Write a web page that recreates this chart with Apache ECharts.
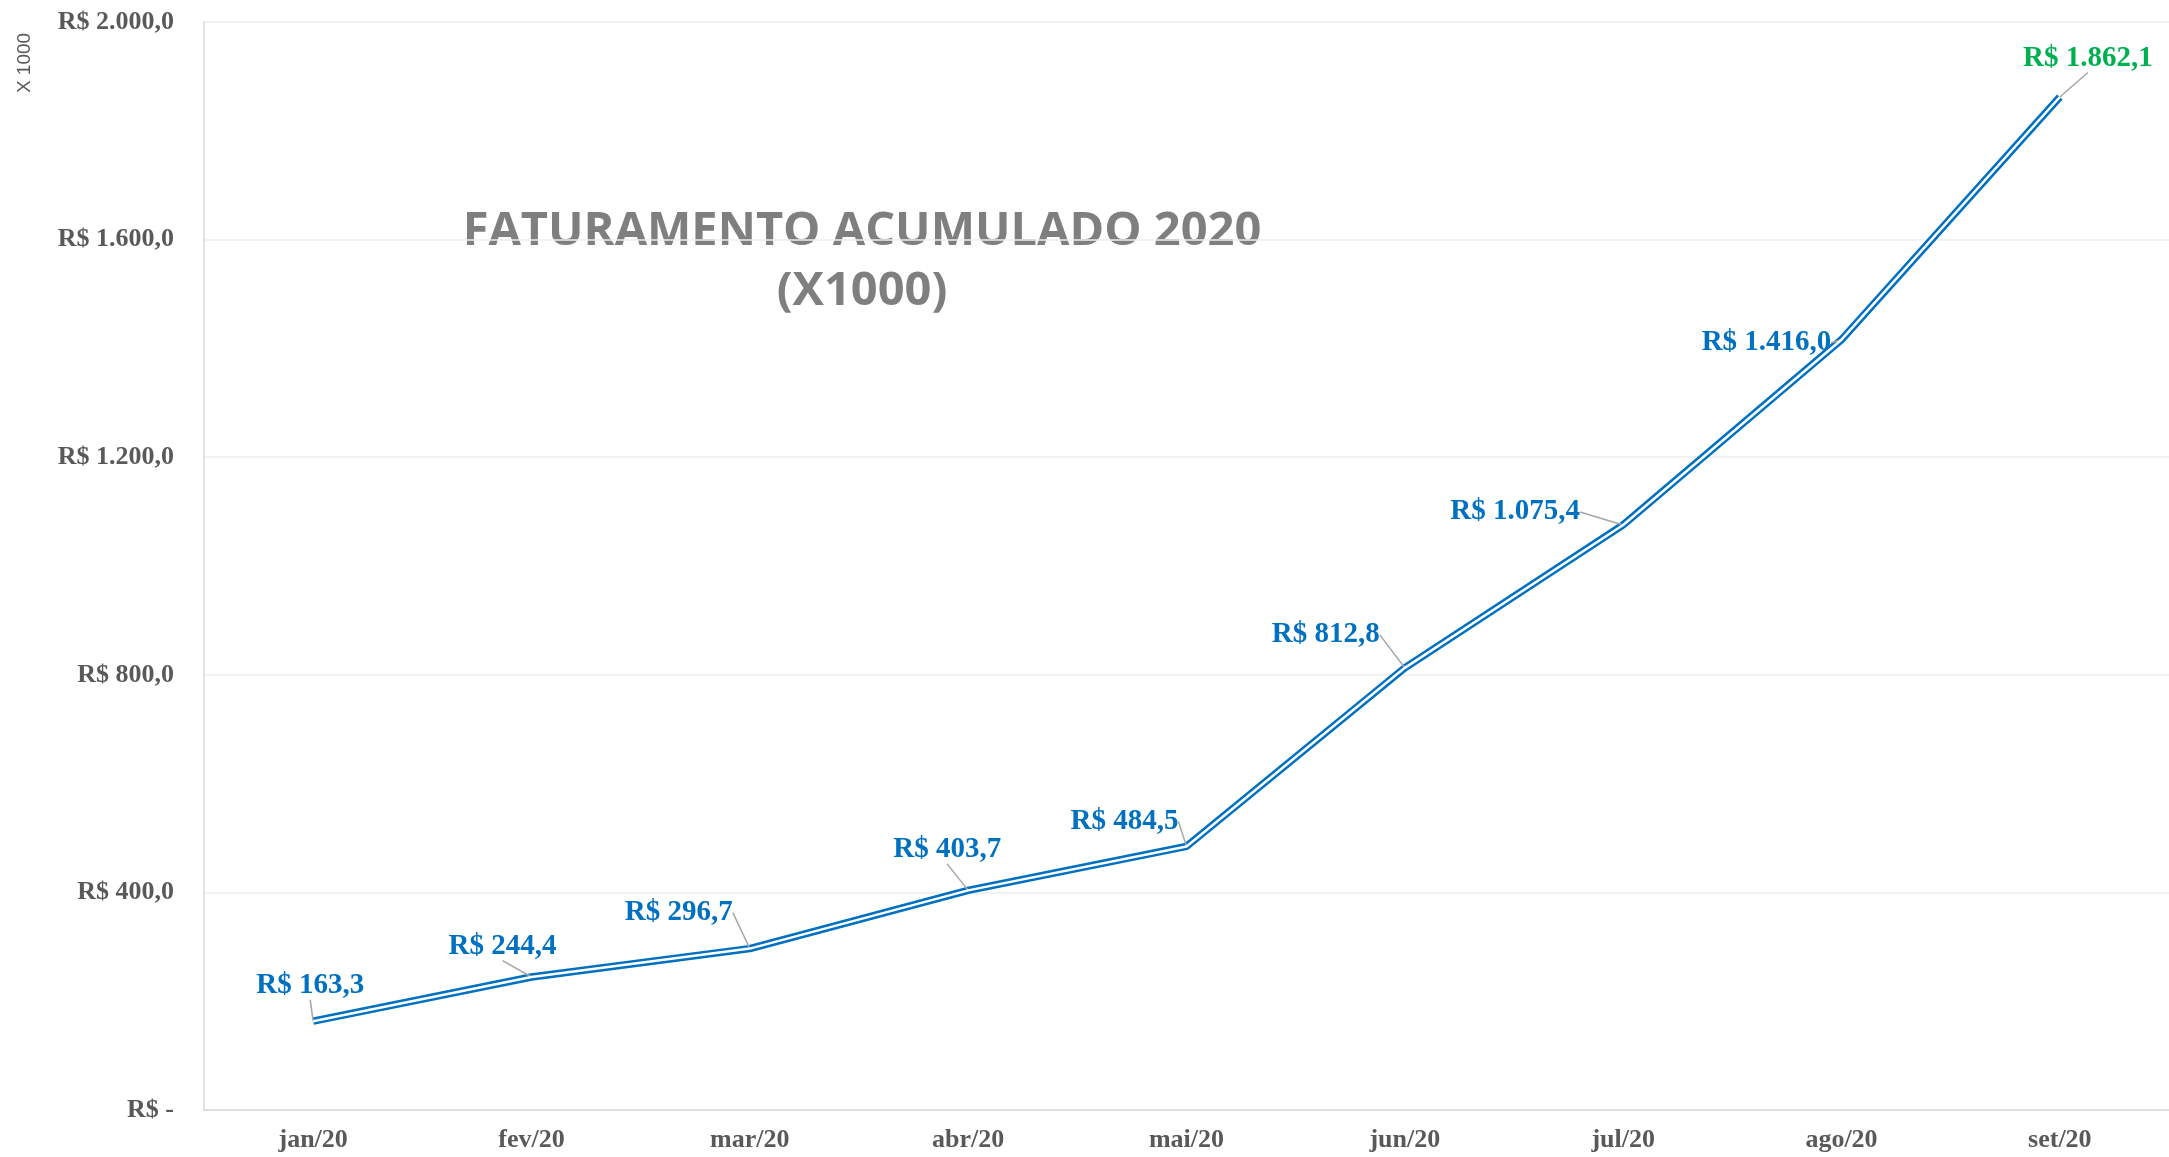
<!DOCTYPE html>
<html>
<head>
<meta charset="utf-8">
<title>Faturamento acumulado 2020</title>
<script src="https://cdn.jsdelivr.net/npm/echarts@6/dist/echarts.min.js"></script>
<style>
  html, body { margin: 0; padding: 0; background: #fff; }
  #faturamento_con { width: 2169px; height: 1157px; }
</style>
</head>
<body>
<div id="faturamento_con"></div>
<script>
// dados (x1000)
var meses = ['jan/20', 'fev/20', 'mar/20', 'abr/20', 'mai/20', 'jun/20', 'jul/20', 'ago/20', 'set/20'];
var acumulado = [163.3, 244.4, 296.7, 403.7, 484.5, 812.8, 1075.4, 1416.0, 1862.1];
var yTicks = [0, 400, 800, 1200, 1600, 2000];
// deslocamento dos rotulos em relacao ao ponto
var labelDx = [-3, -29, -71, -21, -62, -79, -108, -75, 28];
var labelDy = [-36, -31, -36, -41, -25, -33, -13, 3, -39];

var azul = '#0070C0';
var verde = '#00B050';
var cinza = '#595959';

function brl(v) {
  if (v === 0) return 'R$ -';
  var parts = v.toFixed(1).split('.');
  var inteiro = parts[0].replace(/\B(?=(\d{3})+(?!\d))/g, '.');
  return 'R$ ' + inteiro + ',' + parts[1];
}

var chart = echarts.init(document.getElementById('faturamento_con'));

var dadosLinha = acumulado.map(function (v, i) {
  var item = { value: v };
  if (i === acumulado.length - 1) {
    item.label = { color: verde };
  }
  return item;
});

var option = {
  animation: false,
  backgroundColor: '#fff',
  grid: { left: 204, right: -7, top: 22, bottom: 47 },
  graphic: [
    {
      type: 'text',
      x: 862, y: 262,
      style: {
        text: 'FATURAMENTO ACUMULADO 2020\n(X1000)',
        textAlign: 'center',
        textVerticalAlign: 'middle',
        font: 'bold 47px "Open Sans"',
        lineHeight: 60,
        fill: '#7f7f7f'
      }
    },
    {
      type: 'text',
      x: 25, y: 63,
      rotation: Math.PI / 2,
      style: {
        text: 'X 1000',
        textAlign: 'center',
        textVerticalAlign: 'middle',
        font: '19px "Liberation Sans"',
        fill: cinza
      }
    }
  ],
  xAxis: {
    type: 'category',
    data: meses,
    boundaryGap: true,
    axisLine: { show: true, lineStyle: { color: '#d9d9d9', width: 1.5 } },
    axisTick: { show: false },
    axisLabel: {
      margin: 17,
      color: cinza,
      fontFamily: 'Liberation Serif',
      fontWeight: 'bold',
      fontSize: 26
    }
  },
  yAxis: {
    type: 'value',
    min: yTicks[0],
    max: yTicks[yTicks.length - 1],
    interval: 400,
    axisLine: { show: true, lineStyle: { color: '#d9d9d9', width: 1.5 } },
    axisTick: { show: false },
    splitLine: { lineStyle: { color: '#eeeeee', width: 1.5 } },
    axisLabel: {
      margin: 30,
      color: cinza,
      fontFamily: 'Liberation Serif',
      fontWeight: 'bold',
      fontSize: 26,
      formatter: function (v) { return brl(v); }
    }
  },
  series: [
    {
      name: 'Faturamento',
      type: 'line',
      data: dadosLinha,
      symbol: 'circle',
      symbolSize: 0.1,
      showSymbol: true,
      itemStyle: { color: 'rgba(0,0,0,0)', borderWidth: 0 },
      lineStyle: { color: azul, width: 7.5 },
      z: 2,
      label: {
        show: true,
        position: 'inside',
        color: azul,
        fontFamily: 'Liberation Serif',
        fontWeight: 'bold',
        fontSize: 29,
        formatter: function (p) { return brl(p.value); }
      },
      labelLine: {
        show: true,
        lineStyle: { color: '#a6a6a6', width: 1.5 }
      },
      labelLayout: function (p) {
        return { dx: labelDx[p.dataIndex], dy: labelDy[p.dataIndex], hideOverlap: false };
      }
    },
    {
      name: 'Faturamento (interno)',
      type: 'line',
      data: acumulado,
      symbol: 'none',
      silent: true,
      lineStyle: { color: '#ffffff', width: 2.5 },
      z: 3
    }
  ]
};

chart.setOption(option);
</script>
</body>
</html>
